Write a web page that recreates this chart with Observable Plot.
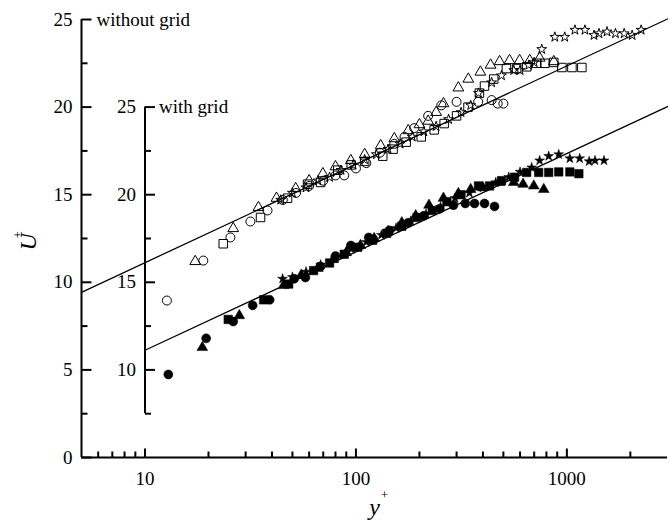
<!DOCTYPE html>
<html><head><meta charset="utf-8">
<script src="https://cdn.jsdelivr.net/npm/d3@7"></script>
<script src="https://cdn.jsdelivr.net/npm/@observablehq/plot@0.6"></script>
<style>body{margin:0;background:#fff}</style>
</head><body><div id="chart"></div>
<script>
// ---- axis ticks / labels ----
const xMajor = [10, 100, 1000];
const xMinor = [6, 7, 8, 9, 20, 30, 40, 50, 60, 70, 80, 90, 200, 300, 400, 500, 600, 700, 800, 900, 2000];
const yMajor = [0, 5, 10, 15, 20, 25];
const yMinor = [2.5, 7.5, 12.5, 17.5, 22.5];
const innerMajor = [10, 15, 20, 25];
const innerMinor = [7.5, 12.5, 17.5, 22.5];
const innerRange = [7.5, 25];
const gridOffset = 5; // "with grid" axis reads 5 higher than outer axis
const labelWithout = "without grid";
const labelWith = "with grid";

// ---- log-law reference lines (endpoints) ----
const lawWithoutX = [5, 3000];
const lawWithoutU = [9.43, 25.03];
const lawWithX = [10, 3000];
const lawWithU = [11.12, 25.03];

// ---- without grid (open symbols), U+ on outer axis ----
const woCircleX = [12.7, 18.9, 25.4, 31.6, 38.1, 45, 52, 60, 70, 80, 88, 100, 112, 130, 152, 170, 189, 220, 254, 300, 380, 440, 470, 500];
const woCircleU = [8.96, 11.24, 12.56, 13.47, 14.1, 14.7, 15.1, 15.5, 15.8, 16.1, 16.1, 16.5, 16.8, 17.4, 17.9, 18.3, 18.8, 19.5, 20.1, 20.3, 20.3, 20.4, 20.2, 20.2];
const woTriX = [17.3, 26.2, 34.5, 42, 51.8, 60, 69.7, 80, 94.6, 110, 131, 152, 177, 200, 220, 240, 260, 306, 341, 389, 435, 480, 535, 597, 667, 743, 867];
const woTriU = [11.19, 13.07, 14.27, 14.8, 15.35, 15.8, 16.2, 16.6, 16.95, 17.3, 17.8, 18.2, 18.66, 19.0, 19.2, 19.7, 20.2, 21.1, 21.6, 22.0, 22.4, 22.6, 22.66, 22.66, 22.66, 22.8, 22.6];
const woSquareX = [23.5, 35.3, 47.4, 59, 68, 82, 95, 110, 134, 150, 173, 204, 235, 262, 300, 340, 385, 407, 450, 517, 578, 645, 720, 786, 867, 947, 1057, 1178];
const woSquareU = [12.2, 13.7, 14.8, 15.6, 15.7, 16.4, 16.7, 16.9, 17.2, 17.6, 18.0, 18.3, 18.7, 19.06, 19.5, 20.0, 20.8, 21.2, 21.6, 22.2, 22.2, 22.3, 22.5, 22.5, 22.55, 22.26, 22.26, 22.26];
const woStarX = [44, 50, 58, 66, 75, 85, 97, 110, 125, 142, 162, 185, 210, 240, 275, 315, 350, 381, 440, 490, 560, 600, 660, 700, 760, 877, 977, 1092, 1218, 1345, 1420, 1550, 1700, 1870, 2040, 2250];
const woStarU = [14.7, 15.1, 15.4, 15.8, 16.0, 16.4, 16.7, 17.0, 17.3, 17.6, 17.9, 18.3, 18.6, 18.9, 19.3, 19.7, 20.1, 20.8, 21.4, 21.8, 22.1, 22.1, 22.4, 22.55, 23.3, 24.0, 24.0, 24.4, 24.4, 24.1, 24.2, 24.3, 24.2, 24.2, 24.1, 24.4];

// ---- with grid (filled symbols), U+ on inner axis ----
const wCircleX = [12.9, 19.5, 26.2, 32.4, 39, 51, 57.6, 68, 80, 94.6, 115, 144, 177, 210, 250, 290, 330, 365, 407, 454];
const wCircleU = [9.74, 11.8, 12.76, 13.68, 14.0, 15.2, 15.27, 15.9, 16.5, 17.1, 17.56, 17.96, 18.4, 18.8, 19.2, 19.4, 19.5, 19.5, 19.5, 19.33];
const wSquareX = [24.8, 36.5, 48, 63, 75, 88, 102, 120, 140, 165, 195, 230, 270, 315, 381, 430, 490, 565, 645, 735, 820, 915, 1033, 1140];
const wSquareU = [12.88, 14.0, 14.9, 15.67, 16.1, 16.6, 17.0, 17.4, 17.8, 18.2, 18.7, 19.1, 19.6, 20.0, 20.5, 20.5, 20.8, 21.0, 21.27, 21.27, 21.27, 21.3, 21.3, 21.2];
const wTriX = [18.7, 28.0, 45.4, 55, 66, 78, 90, 105, 122, 142, 165, 192, 222, 260, 306, 350, 400, 480, 560, 620, 697, 777];
const wTriU = [11.28, 13.1, 14.82, 15.4, 15.8, 16.3, 16.7, 17.1, 17.5, 17.9, 18.4, 18.8, 19.4, 19.8, 20.07, 20.3, 20.4, 20.7, 20.7, 20.6, 20.5, 20.3];
const wStarX = [44.9, 50, 58, 68, 80, 95, 112, 132, 155, 182, 215, 252, 295, 345, 400, 460, 530, 600, 681, 743, 820, 915, 1033, 1150, 1275, 1360, 1500];
const wStarU = [15.2, 15.3, 15.6, 16.0, 16.4, 16.9, 17.3, 17.7, 18.1, 18.5, 18.9, 19.3, 19.8, 20.1, 20.4, 20.7, 21.0, 21.3, 21.55, 21.95, 22.2, 22.3, 22.07, 22.07, 21.9, 21.95, 21.95];

const rows = (xs, us) => xs.map((x, i) => ({x, u: us[i]}));

const tickRight = {draw(ctx, size) { const l = Math.sqrt(size / Math.PI); ctx.moveTo(0, 0); ctx.lineTo(l, 0); }};
const tickUp = {draw(ctx, size) { const l = Math.sqrt(size / Math.PI); ctx.moveTo(0, 0); ctx.lineTo(0, -l); }};

const openStyle = {fill: "none", stroke: "black", strokeWidth: 1};
const filledStyle = {fill: "black", stroke: "black", strokeWidth: 0.5};
const sh = d => d.u - gridOffset;

const chart = Plot.plot({
  width: 670, height: 524,
  marginLeft: 81, marginRight: 3, marginTop: 19, marginBottom: 67,
  style: {fontFamily: "'Liberation Serif', 'Times New Roman', serif", fontSize: "19px", background: "white", color: "black"},
  x: {type: "log", domain: [5, 3000], axis: null},
  y: {domain: [0, 25], axis: null},
  marks: [
    // axis lines
    Plot.ruleY([0], {strokeWidth: 2}),
    Plot.ruleX([5], {strokeWidth: 2}),
    Plot.ruleX([10], {y1: innerRange[0] - gridOffset, y2: innerRange[1] - gridOffset, strokeWidth: 2}),
    // outer y ticks
    Plot.dot(yMajor, {x: 5, y: d => d, symbol: tickRight, r: 10, fill: "none", stroke: "black", strokeWidth: 2}),
    Plot.dot(yMinor, {x: 5, y: d => d, symbol: tickRight, r: 6, fill: "none", stroke: "black", strokeWidth: 2}),
    Plot.text(yMajor, {x: 5, y: d => d, text: d => String(d), textAnchor: "end", dx: -9}),
    // inner y ticks
    Plot.dot(innerMajor, {x: 10, y: d => d - gridOffset, symbol: tickRight, r: 10, fill: "none", stroke: "black", strokeWidth: 2}),
    Plot.dot(innerMinor, {x: 10, y: d => d - gridOffset, symbol: tickRight, r: 6, fill: "none", stroke: "black", strokeWidth: 2}),
    Plot.text(innerMajor, {x: 10, y: d => d - gridOffset, text: d => String(d), textAnchor: "end", dx: -9}),
    // x ticks
    Plot.dot(xMajor, {x: d => d, y: 0, symbol: tickUp, r: 9, fill: "none", stroke: "black", strokeWidth: 2}),
    Plot.dot(xMinor, {x: d => d, y: 0, symbol: tickUp, r: 6, fill: "none", stroke: "black", strokeWidth: 2}),
    Plot.text(xMajor, {x: d => d, y: 0, text: d => String(d), dy: 21}),
    // axis titles
    Plot.text([labelWithout], {x: 5, y: 25, text: d => d, textAnchor: "start", dx: 15}),
    Plot.text([labelWith], {x: 10, y: innerRange[1] - gridOffset, text: d => d, textAnchor: "start", dx: 14}),
    Plot.text(["U"], {frameAnchor: "left", text: d => d, rotate: -90, dx: -53, dy: 12, fontStyle: "italic", fontSize: 24}),
    Plot.text(["+"], {frameAnchor: "left", text: d => d, rotate: -90, dx: -64, dy: 0, fontSize: 13}),
    Plot.text(["y"], {frameAnchor: "bottom", text: d => d, dy: 57, fontStyle: "italic", fontSize: 24}),
    Plot.text(["+"], {frameAnchor: "bottom", text: d => d, dx: 10, dy: 41, fontSize: 13}),
    // log-law lines
    Plot.line(rows(lawWithoutX, lawWithoutU), {x: "x", y: "u", stroke: "black", strokeWidth: 1.3}),
    Plot.line(rows(lawWithX, lawWithU), {x: "x", y: sh, stroke: "black", strokeWidth: 1.3}),
    // without grid (open)
    Plot.dot(rows(woCircleX, woCircleU), {x: "x", y: "u", symbol: "circle", r: 4.5, ...openStyle}),
    Plot.dot(rows(woTriX, woTriU), {x: "x", y: "u", symbol: "triangle", r: 4, ...openStyle}),
    Plot.dot(rows(woSquareX, woSquareU), {x: "x", y: "u", symbol: "square", r: 4.8, ...openStyle}),
    Plot.dot(rows(woStarX, woStarU), {x: "x", y: "u", symbol: "star", r: 3.1, ...openStyle}),
    // with grid (filled)
    Plot.dot(rows(wCircleX, wCircleU), {x: "x", y: sh, symbol: "circle", r: 4.5, ...filledStyle}),
    Plot.dot(rows(wTriX, wTriU), {x: "x", y: sh, symbol: "triangle", r: 4, ...filledStyle}),
    Plot.dot(rows(wSquareX, wSquareU), {x: "x", y: sh, symbol: "square", r: 4.8, ...filledStyle}),
    Plot.dot(rows(wStarX, wStarU), {x: "x", y: sh, symbol: "star", r: 3.1, ...filledStyle})
  ]
});
document.getElementById("chart").appendChild(chart);
</script>
</body></html>
